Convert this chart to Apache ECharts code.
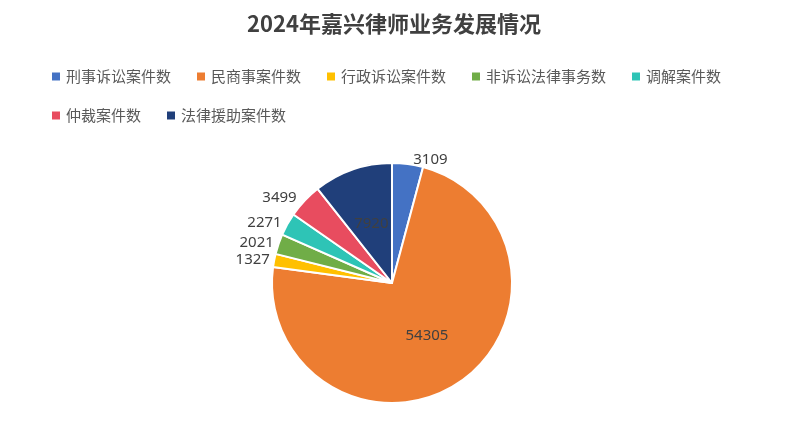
<!DOCTYPE html>
<html><head><meta charset="utf-8">
<script src="https://cdn.jsdelivr.net/npm/echarts@6/dist/echarts.min.js"></script>
<style>body{margin:0}#c{width:788px;height:440px}</style></head>
<body><div id="c"></div>
<script>
var categories = ['刑事诉讼案件数','民商事案件数','行政诉讼案件数','非诉讼法律事务数','调解案件数','仲裁案件数','法律援助案件数'];
var values = [3109, 54305, 1327, 2021, 2271, 3499, 7920];
var colors = ['#4472c4','#ed7d31','#ffc000','#70ad47','#2ec4b6','#e84c5f','#203f7a'];
var insideLabels = [54305, 7920];

var chart = echarts.init(document.getElementById('c'));
chart.setOption({
  title: {text: '2024年嘉兴律师业务发展情况', left: 'center', top: 8,
    textStyle: {fontSize: 22, fontWeight: 'bold', color: '#404040', fontFamily: 'Noto Sans CJK SC'}},
  color: colors,
  legend: {left: 45, top: 64, width: 720, itemWidth: 10, itemHeight: 10, itemGap: 24, icon: 'rect',
    textStyle: {fontSize: 15, color: '#595959', fontFamily: 'Noto Sans CJK SC'}},
  series: [{
    type: 'pie', radius: 120, center: [392, 283], startAngle: 90,
    itemStyle: {borderColor: '#fff', borderWidth: 2},
    labelLine: {show: false, length: 4, length2: 0},
    label: {formatter: '{c}', fontSize: 15, color: '#404040', fontFamily: 'Noto Sans'},
    data: categories.map(function (n, i) {
      var d = {name: n, value: values[i]};
      if (insideLabels.indexOf(values[i]) >= 0) d.label = {position: 'inside'};
      return d;
    })
  }]
});
</script></body></html>
